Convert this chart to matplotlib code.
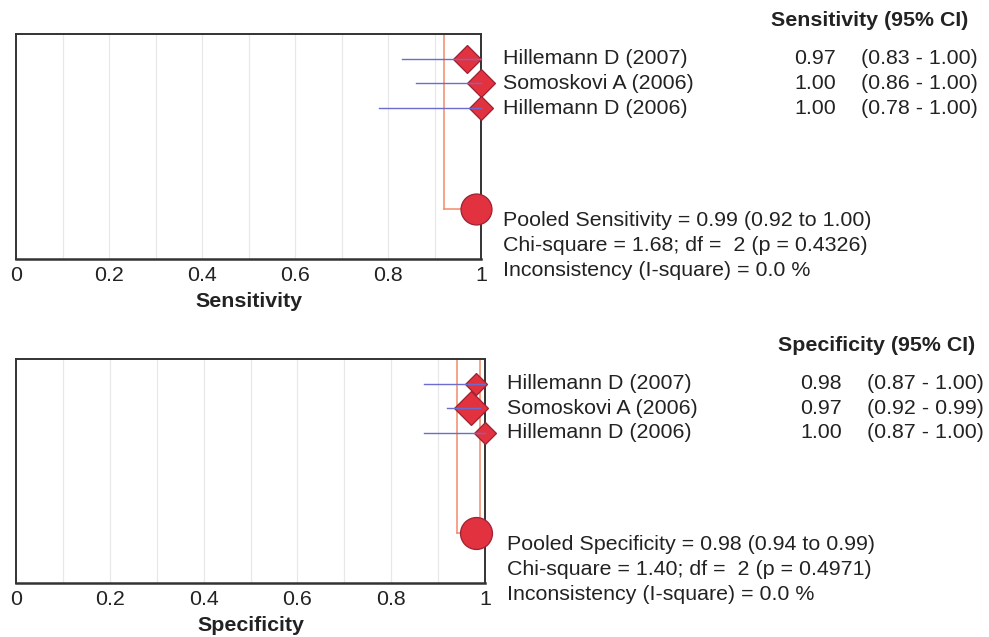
import matplotlib
matplotlib.use("Agg")
import matplotlib.pyplot as plt
import matplotlib.transforms as mtransforms

plt.rcParams['font.family'] = ['Liberation Sans', 'DejaVu Sans']

studies = ["Hillemann D (2007)", "Somoskovi A (2006)", "Hillemann D (2006)"]

# sensitivity
sens_est = [0.97, 1.00, 1.00]
sens_lo = [0.83, 0.86, 0.78]
sens_hi = [1.00, 1.00, 1.00]
sens_pool = [0.99, 0.92, 1.00]
sens_chi = [1.68, 2, 0.4326, 0.0]

# specificity
spec_est = [0.98, 0.97, 1.00]
spec_lo = [0.87, 0.92, 0.87]
spec_hi = [1.00, 0.99, 1.00]
spec_pool = [0.98, 0.94, 0.99]
spec_chi = [1.40, 2, 0.4971, 0.0]

ticks = [0, 0.2, 0.4, 0.6, 0.8, 1]
tick_labels = ["0", "0.2", "0.4", "0.6", "0.8", "1"]

RED = "#e2323f"
EDGE = "#9c2233"
BLUE = "#6b6bd0"
ORANGE = "#f28a6a"
FS = 15.4

fig = plt.figure(figsize=(9.89, 6.37), dpi=100)
W, H = 989.0, 637.0


def panel(box, name, est, lo, hi, pool, chi, msizes, txt_x):
    l, t, r, b = box
    ax = fig.add_axes([l / W, 1 - b / H, (r - l) / W, (b - t) / H])
    ax.set_xlim(0, 1)
    ax.set_ylim(9.1, 0)
    pool_y = 7.08
    for g in [0.1, 0.2, 0.3, 0.4, 0.5, 0.6, 0.7, 0.8, 0.9]:
        ax.axvline(g, color="#e8e8e8", lw=0.9, zorder=0)
    # pooled CI lines
    for c in pool[1:]:
        ax.plot([c, c], [0, pool_y], color=ORANGE, lw=1.1, zorder=1)
        ax.plot([c, pool[0]], [pool_y, pool_y], color=ORANGE, lw=1.1, zorder=1)
    rows = [1, 2, 3]
    for i in range(3):
        ax.plot(est[i], rows[i], marker="D", ms=msizes[i], mfc=RED, mec=EDGE,
                mew=0.9, zorder=3, clip_on=False)
        ax.plot([lo[i], hi[i]], [rows[i], rows[i]], color=BLUE, lw=1.0,
                zorder=4, clip_on=False)
    ax.plot(pool[0], pool_y, marker="o", ms=msizes[3], mfc=RED, mec=EDGE,
            mew=0.9, zorder=5, clip_on=False)
    for s in ax.spines.values():
        s.set_color("#333333")
        s.set_linewidth(1.4)
        s.set_zorder(2)
    ax.spines["bottom"].set_linewidth(1.8)
    ax.set_yticks([])
    ax.set_xticks(ticks)
    ax.set_xticklabels(tick_labels, fontsize=FS, color="#222222")
    ax.tick_params(axis="x", length=0, pad=5)
    ax.set_xlabel(name, fontsize=FS, fontweight="bold", color="#222222", labelpad=5)

    tr = mtransforms.blended_transform_factory(fig.transFigure, ax.transData)
    nx, vx, cx, hx = [v / W for v in txt_x]
    kw = dict(transform=tr, fontsize=FS, color="#222222", va="center")
    ax.text(hx, -0.55, name + " (95% CI)", ha="right", fontweight="bold", **kw)
    for i in range(3):
        ax.text(nx, rows[i], studies[i], ha="left", **kw)
        ax.text(vx, rows[i], "%.2f" % est[i], ha="right", **kw)
        ax.text(cx, rows[i], "(%.2f - %.2f)" % (lo[i], hi[i]), ha="right", **kw)
    ax.text(nx, 7.53, "Pooled %s = %.2f (%.2f to %.2f)" % (name, pool[0], pool[1], pool[2]),
            ha="left", **kw)
    ax.text(nx, 8.55, "Chi-square = %.2f; df =  %d (p = %.4f)" % (chi[0], chi[1], chi[2]),
            ha="left", **kw)
    ax.text(nx, 9.55, "Inconsistency (I-square) = %.1f %%" % chi[3], ha="left", **kw)
    return ax


panel((16, 34, 481, 259), "Sensitivity", sens_est, sens_lo, sens_hi, sens_pool,
      sens_chi, [14.4, 13.8, 11.8, 22.3], (503, 836, 978, 968))
panel((16, 359, 485, 583), "Specificity", spec_est, spec_lo, spec_hi, spec_pool,
      spec_chi, [10.8, 17.0, 10.8, 23.0], (507, 842, 984, 975))

fig.savefig("out.png", dpi=100)
